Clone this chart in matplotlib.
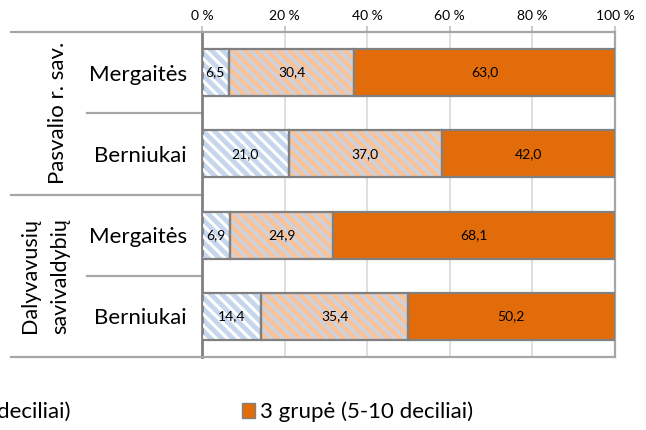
import numpy as np
import matplotlib
matplotlib.use('Agg')
import matplotlib.pyplot as plt
from matplotlib.patches import Patch
from matplotlib.lines import Line2D
import matplotlib.transforms as mtransforms

plt.rcParams['font.family'] = ['Lato', 'DejaVu Sans']
plt.rcParams['hatch.linewidth'] = 2.2

# data
rows = ['Mergaitės', 'Berniukai', 'Mergaitės', 'Berniukai']
groups = ['Pasvalio r. sav.', 'Dalyvavusių\nsavivaldybių']
grupe1 = [6.5, 21.0, 6.9, 14.4]
grupe2 = [30.4, 37.0, 24.9, 35.4]
grupe3 = [63.0, 42.0, 68.1, 50.2]
xticks = [0, 20, 40, 60, 80, 100]

fig = plt.figure(figsize=(6.46, 4.30), dpi=100)
ax = fig.add_axes([202/646, 1 - 357/430, 413/646, 325/430])

y = np.arange(len(rows))
h = 0.58
edge = '#808080'

# segment 1: pale blue with white stripes
ax.barh(y, grupe1, height=h, color='#c6d6ec', linewidth=0, zorder=2)
ax.barh(y, grupe1, height=h, color='none', edgecolor='white', hatch='\\\\\\', linewidth=0, zorder=3)
ax.barh(y, grupe1, height=h, color='none', edgecolor=edge, linewidth=1.6, zorder=4)

# segment 2: peach with pale blue stripes
left2 = np.array(grupe1)
ax.barh(y, grupe2, left=left2, height=h, color='#f9c39a', linewidth=0, zorder=2)
ax.barh(y, grupe2, left=left2, height=h, color='none', edgecolor='#c8d3e6', hatch='\\\\\\', linewidth=0, zorder=3)
ax.barh(y, grupe2, left=left2, height=h, color='none', edgecolor=edge, linewidth=1.6, zorder=4)

left3 = left2 + np.array(grupe2)
ax.barh(y, grupe3, left=left3, height=h, color='#e36c0a', edgecolor=edge, linewidth=1.6, zorder=4)

# data labels
for vals, lefts in [(grupe1, np.zeros(4)), (grupe2, left2), (grupe3, left3)]:
    for i, (v, l) in enumerate(zip(vals, lefts)):
        ax.text(l + v / 2, i, ('%.1f' % v).replace('.', ','), ha='center', va='center',
                fontsize=10, color='black', zorder=5)

ax.set_xlim(0, 100)
ax.set_ylim(3.5, -0.5)
ax.xaxis.tick_top()
ax.set_xticks(xticks)
ax.set_xticklabels(['%d %%' % t for t in xticks], fontsize=10)
ax.tick_params(axis='x', length=4, width=1.2, color='#bfbfbf', pad=3)
ax.set_yticks(y)
ax.set_yticklabels(rows, fontsize=16)
ax.tick_params(axis='y', length=0, pad=11)

for t in xticks[1:-1]:
    ax.axvline(t, color='#d9d9d9', lw=1.2, zorder=1)

ax.spines['left'].set_color(edge)
ax.spines['left'].set_linewidth(2)
for s in ['top', 'right', 'bottom']:
    ax.spines[s].set_color('#a6a6a6')
    ax.spines[s].set_linewidth(1.6)

# category separators on the left
trans = mtransforms.blended_transform_factory(ax.transAxes, ax.transData)
x_far = (11 - 202) / 413
x_near = (87 - 202) / 413
for yy in [-0.5, 1.5, 3.5]:
    ax.add_line(Line2D([x_far, 0], [yy, yy], transform=trans, color='#a6a6a6', lw=1.6, clip_on=False))
for yy in [0.5, 2.5]:
    ax.add_line(Line2D([x_near, 0], [yy, yy], transform=trans, color='#a6a6a6', lw=1.6, clip_on=False))

ax.text((58 - 202) / 413, 0.5, groups[0], transform=trans, rotation=90, ha='center', va='center', fontsize=16)
ax.text((45 - 202) / 413, 2.5, groups[1], transform=trans, rotation=90, ha='center', va='center',
        fontsize=15.5, linespacing=1.6)

# legend (cropped in the source image)
fig.text(70 / 646, 1 - 412 / 430, 'deciliai)', ha='right', va='center', fontsize=16)
fig.legend(handles=[Patch(facecolor='#e36c0a', edgecolor=edge, label='3 grupė (5-10 deciliai)')],
           loc='center left', bbox_to_anchor=(222 / 646, 1 - 412 / 430), frameon=False,
           fontsize=16, handlelength=0.6, handleheight=0.6, handletextpad=0.2)

fig.savefig('out.png', dpi=100)
